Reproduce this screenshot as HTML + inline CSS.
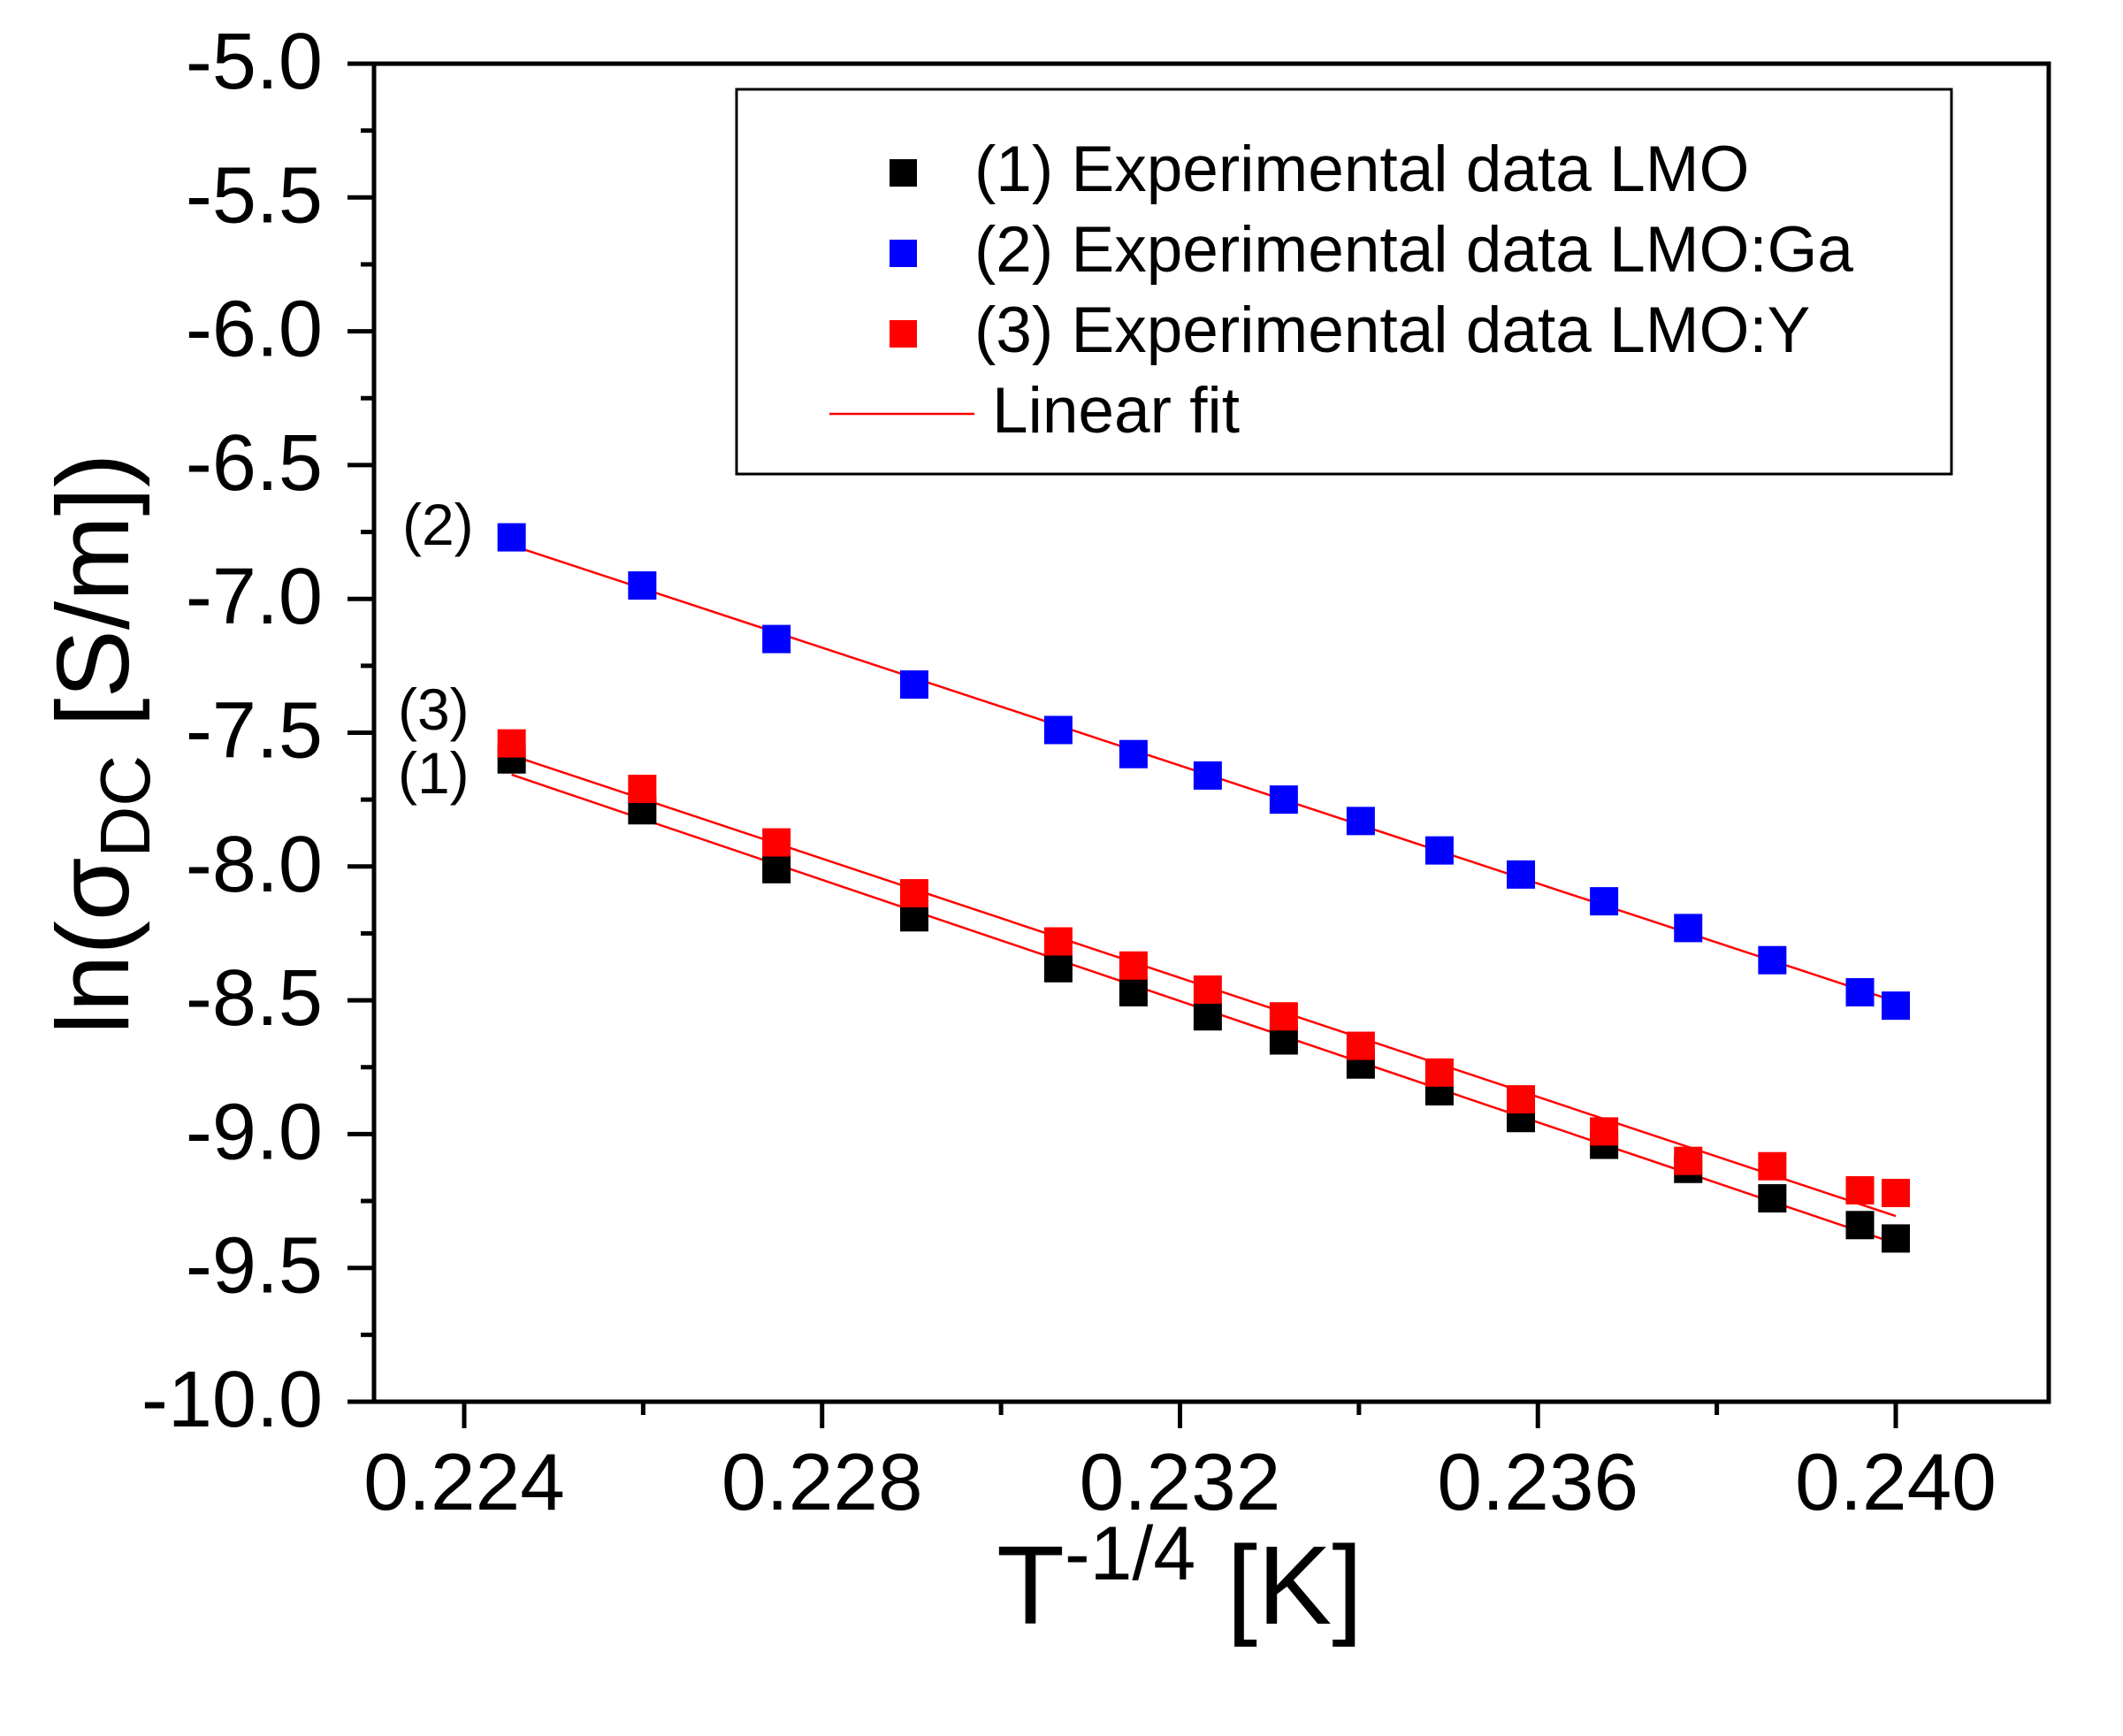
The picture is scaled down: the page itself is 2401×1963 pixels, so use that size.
<!DOCTYPE html>
<html><head><meta charset="utf-8"><style>
html,body{margin:0;padding:0;background:#fff;}
svg{display:block;font-family:"Liberation Sans",Arial,sans-serif;}
</style></head><body>
<svg id="chart" width="2401" height="1963" viewBox="0 0 2401 1963" xmlns="http://www.w3.org/2000/svg">
<rect width="2401" height="1963" fill="#fff"/>
<g id="axes"></g>
<g id="fits"></g>
<g id="marks"></g>
<g>
<rect x="833" y="101" width="1374" height="435" fill="#fff" stroke="#000" stroke-width="3"/>
<rect x="1006" y="180" width="31" height="31" fill="#000"/>
<text x="1102" y="216" font-size="73">(1) Experimental data LMO</text>
<rect x="1006" y="271" width="31" height="31" fill="#0000ff"/>
<text x="1102" y="307" font-size="73">(2) Experimental data LMO:Ga</text>
<rect x="1006" y="362" width="31" height="31" fill="#ff0000"/>
<text x="1102" y="398" font-size="73">(3) Experimental data LMO:Y</text>
<line x1="938" y1="468" x2="1102" y2="468" stroke="#ff0000" stroke-width="2.5"/>
<text x="1122" y="489" font-size="73">Linear fit</text>
</g>
<text x="455" y="616" font-size="66">(2)</text>
<text x="450" y="825" font-size="66">(3)</text>
<text x="450" y="897" font-size="66">(1)</text>
<text x="1127" y="1836" font-size="126">T<tspan dy="-50" font-size="86">-1/4</tspan><tspan dy="50"> [K]</tspan></text>
<text transform="translate(145,1170) rotate(-90)" font-size="116">ln(σ<tspan dy="24" font-size="80">DC</tspan><tspan dy="-24"> [S/m])</tspan></text>
</svg>
<script>
const xVals=[0.22453,0.22599,0.22749,0.22903,0.23064,0.23148,0.23231,0.23316,0.23402,0.23490,0.23581,0.23674,0.23768,0.23862,0.23960,0.24000];
const lmoVals=[-7.60,-7.79,-8.01,-8.19,-8.38,-8.47,-8.56,-8.65,-8.74,-8.84,-8.94,-9.04,-9.13,-9.24,-9.34,-9.39];
const gaVals=[-6.77,-6.95,-7.15,-7.32,-7.49,-7.58,-7.66,-7.75,-7.83,-7.94,-8.03,-8.13,-8.23,-8.35,-8.47,-8.52];
const yVals=[-7.54,-7.71,-7.91,-8.10,-8.28,-8.37,-8.46,-8.56,-8.67,-8.77,-8.87,-8.99,-9.10,-9.12,-9.21,-9.22];
const xTicks=[0.224,0.228,0.232,0.236,0.240];
const xTickLabels=["0.224","0.228","0.232","0.236","0.240"];
const yTicks=[-5,-5.5,-6,-6.5,-7,-7.5,-8,-8.5,-9,-9.5,-10];
const yTickLabels=["-5.0","-5.5","-6.0","-6.5","-7.0","-7.5","-8.0","-8.5","-9.0","-9.5","-10.0"];
const NS="http://www.w3.org/2000/svg";
const L=423,R=2317,T=72,B=1585;
const X0=0.224,X1=0.240,PX0=525,PX1=2144;
function sx(v){return PX0+(v-X0)/(X1-X0)*(PX1-PX0);}
function sy(v){return T+(-5-v)/5*(B-T);}
function mk(tag,attrs,parent){const e=document.createElementNS(NS,tag);for(const k in attrs)e.setAttribute(k,attrs[k]);parent.appendChild(e);return e;}
const axes=document.getElementById('axes');
let frame=mk('rect',{x:L,y:T,width:R-L,height:B-T,fill:'none',stroke:'#000','stroke-width':5},axes);


yTicks.forEach((v,i)=>{
  let t=mk('line',{x1:L-30,x2:L,y1:sy(v),y2:sy(v),stroke:'#000','stroke-width':5},axes);
  
  
  if(i<yTicks.length-1){let m=mk('line',{x1:L-15,x2:L,y1:sy(v-0.25),y2:sy(v-0.25),stroke:'#000','stroke-width':5},axes);
  
  }
  let tx=mk('text',{x:365,y:sy(v)+28,'text-anchor':'end','font-size':90},axes);
  tx.textContent=yTickLabels[i];
  
  
});
xTicks.forEach((v,i)=>{
  let t=mk('line',{x1:sx(v),x2:sx(v),y1:B,y2:B+30,stroke:'#000','stroke-width':5},axes);
  
  
  if(i<xTicks.length-1){let m=mk('line',{x1:sx(v+0.002),x2:sx(v+0.002),y1:B,y2:B+15,stroke:'#000','stroke-width':5},axes);
  
  }
  let tx=mk('text',{x:sx(v),y:B+122,'text-anchor':'middle','font-size':91},axes);
  tx.textContent=xTickLabels[i];
  
  
});
function fit(xs,ys){const n=xs.length;let mx=0,my=0;for(let i=0;i<n;i++){mx+=xs[i];my+=ys[i];}mx/=n;my/=n;let sxy=0,sxx=0;for(let i=0;i<n;i++){sxy+=(xs[i]-mx)*(ys[i]-my);sxx+=(xs[i]-mx)**2;}const b=sxy/sxx;return [b,my-b*mx];}
const fits=document.getElementById('fits'),marks=document.getElementById('marks');
[[lmoVals,'#000','lmo'],[yVals,'#ff0000','lmo-y'],[gaVals,'#0000ff','lmo-ga']].forEach(([ys,c,nm])=>{
  const [b,a]=fit(xVals,ys);const xa=xVals[0],xb=xVals[xVals.length-1];
  let ln=mk('line',{x1:sx(xa),y1:sy(a+b*xa),x2:sx(xb),y2:sy(a+b*xb),stroke:'#ff0000','stroke-width':2.5},fits);
  
  
  xVals.forEach((x,i)=>{
    let r=mk('rect',{x:sx(x)-16,y:sy(ys[i])-16,width:32,height:32,fill:c},marks);
    
    
  });
});
</script>
</body></html>
